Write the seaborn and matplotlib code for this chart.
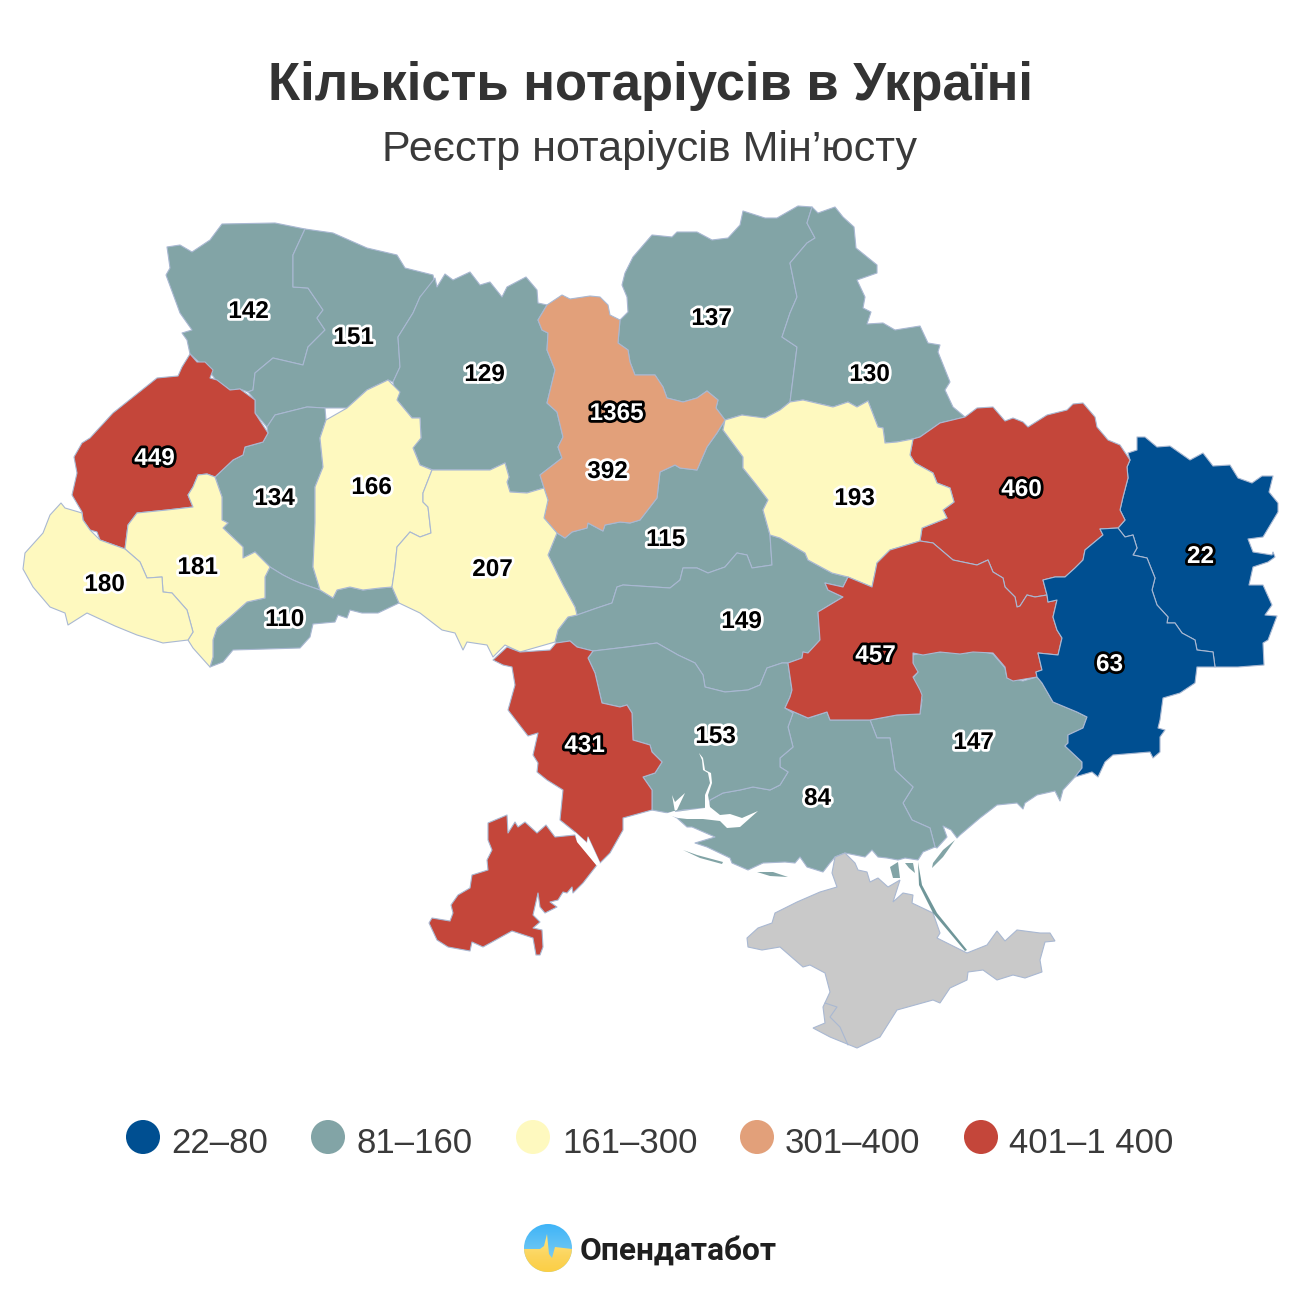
#import packages
import matplotlib
matplotlib.use("Agg")
import matplotlib.pyplot as plt
import matplotlib.patheffects as pe
from matplotlib.colors import LinearSegmentedColormap
from matplotlib.patches import Circle, Polygon
import numpy as np
import pandas as pd
import seaborn as sns

sns.set_theme(style="white")
plt.rcParams['font.family'] = ['Liberation Sans', 'DejaVu Sans']

#chart values
region_names = ["Волинська", "Рівненська", "Житомирська", "Чернігівська", "Сумська", "Львівська",
                "Тернопільська", "Хмельницька", "Київ", "Київська", "Полтавська", "Харківська",
                "Луганська", "Закарпатська", "Івано-Франківська", "Вінницька", "Черкаська",
                "Чернівецька", "Кіровоградська", "Дніпропетровська", "Донецька", "Одеська",
                "Миколаївська", "Запорізька", "Херсонська"]
notary_counts = [142, 151, 129, 137, 130, 449, 134, 166, 1365, 392, 193, 460, 22, 180, 181, 207,
                 115, 110, 149, 457, 63, 431, 153, 147, 84]
bin_edges = [0, 80, 160, 300, 400, 1400]
bin_labels = ["22–80", "81–160", "161–300", "301–400", "401–1 400"]
bin_colors = ["#004f91", "#82a4a6", "#fef9bf", "#e2a07a", "#c4463a"]
label_x = [248, 353, 484, 711, 869, 154, 274, 371, 616, 607, 854, 1021, 1200, 104, 197, 492, 665,
           284, 741, 875, 1109, 584, 715, 973, 817]
label_y = [310, 336, 373, 317, 373, 457, 497, 486, 412, 470, 497, 488, 555, 583, 566, 568, 538,
           618, 620, 654, 663, 744, 735, 741, 797]

#region outlines (px)
volyn = [(222,224),(275,223),(305,229),(293,255),(293,287),(308,288),(323,310),(317,318),(325,330),(308,347),(303,365),(273,358),(255,373),(253,390),(248,392),(240,389),(230,390),(215,379),(210,372),(190,354),(187,340),(182,333),(192,330),(180,313),(166,275),(170,268),(167,247),(180,245),(192,252),(210,240)]
rivne = [(305,229),(333,233),(367,248),(397,255),(405,268),(433,275),(435,285),(420,297),(413,313),(398,337),(400,367),(393,382),(388,380),(367,390),(347,408),(325,408),(307,407),(275,415),(267,427),(255,413),(255,400),(248,392),(253,390),(255,373),(273,358),(303,365),(308,347),(325,330),(317,318),(323,310),(308,288),(293,287),(293,255)]
lviv = [(190,354),(197,362),(205,362),(213,370),(210,378),(217,380),(230,390),(240,389),(255,400),(255,413),(268,433),(263,442),(245,447),(243,455),(233,460),(215,477),(207,474),(198,475),(193,487),(188,495),(193,507),(167,510),(137,513),(128,525),(125,549),(100,540),(97,532),(90,530),(83,520),(82,512),(72,495),(77,473),(74,457),(82,443),(90,438),(113,413),(157,378),(178,376),(182,367)]
zakarpattia = [(61,503),(65,508),(82,513),(83,520),(90,530),(100,540),(125,549),(140,562),(147,578),(162,577),(163,592),(172,593),(187,610),(193,632),(188,640),(163,643),(137,635),(115,626),(87,613),(68,625),(65,613),(50,607),(33,587),(23,569),(25,553),(43,533),(50,515)]
frankivsk = [(198,475),(207,474),(215,477),(222,497),(222,520),(228,523),(223,528),(243,547),(243,558),(255,552),(270,567),(265,577),(265,598),(247,602),(230,617),(217,628),(213,640),(213,657),(210,667),(193,648),(188,640),(193,632),(187,610),(172,593),(163,592),(162,577),(147,578),(140,562),(125,549),(128,525),(137,513),(167,510),(193,507),(188,495),(193,487)]
ternopil = [(275,415),(307,407),(325,408),(326,420),(320,438),(323,467),(315,487),(315,523),(313,567),(320,590),(300,583),(293,580),(283,575),(270,567),(255,552),(243,558),(243,547),(223,528),(228,523),(222,520),(222,497),(215,477),(233,460),(243,455),(245,447),(263,442),(268,433),(267,427)]
chernivtsi = [(270,567),(283,575),(293,580),(300,583),(320,590),(333,598),(337,590),(350,587),(363,590),(380,588),(392,587),(399,603),(378,613),(362,613),(350,610),(347,618),(338,615),(335,622),(313,624),(310,637),(300,648),(233,650),(223,662),(210,667),(213,657),(213,640),(217,628),(230,617),(247,602),(265,598),(265,577)]
khmelnytskyi = [(388,380),(400,392),(397,400),(412,418),(420,418),(421,438),(413,448),(420,465),(432,470),(423,493),(423,502),(428,507),(431,533),(420,537),(410,532),(397,547),(395,567),(392,587),(380,588),(363,590),(350,587),(337,590),(333,598),(320,590),(313,567),(315,523),(315,487),(323,467),(320,438),(326,420),(347,408),(367,390)]
zhytomyr = [(435,278),(437,287),(445,274),(453,280),(470,272),(480,285),(490,282),(502,297),(507,287),(526,277),(537,290),(538,303),(547,305),(538,320),(542,330),(548,333),(547,350),(555,370),(547,403),(557,412),(563,437),(558,447),(562,458),(540,475),(544,488),(527,493),(510,492),(507,482),(509,477),(505,463),(490,470),(433,470),(420,465),(413,447),(421,438),(420,418),(412,418),(397,400),(393,382),(400,367),(398,337),(413,313),(420,297)]
vinnytsia = [(432,470),(490,470),(505,463),(509,477),(507,482),(510,492),(527,493),(544,488),(548,500),(544,518),(557,533),(548,555),(563,585),(575,607),(577,615),(568,617),(558,630),(555,642),(520,652),(505,645),(493,657),(487,645),(467,642),(463,650),(455,633),(442,630),(420,613),(399,603),(392,587),(395,567),(397,547),(410,532),(420,537),(431,533),(428,507),(423,502),(423,493)]
kyiv_obl = [(538,320),(547,305),(562,295),(570,299),(590,296),(600,297),(608,305),(610,315),(620,320),(618,343),(628,350),(630,362),(635,375),(655,375),(663,387),(667,398),(683,402),(697,398),(707,391),(718,400),(716,408),(725,420),(717,433),(707,447),(697,470),(680,468),(675,465),(660,472),(657,498),(640,520),(630,523),(620,522),(605,525),(603,531),(588,523),(587,528),(572,532),(565,538),(557,533),(544,518),(548,500),(544,488),(540,475),(562,458),(558,447),(563,437),(557,412),(547,403),(555,370),(547,350),(548,333),(542,330)]
kyiv_city = [(602,387),(612,383),(618,393),(635,385),(639,388),(630,403),(632,420),(622,427),(625,450),(621,450),(617,433),(610,423),(597,403)]
chernihiv = [(620,320),(628,312),(627,297),(622,285),(625,273),(633,257),(652,235),(672,237),(677,232),(697,232),(712,240),(728,238),(740,225),(743,211),(765,218),(777,218),(798,206),(812,207),(807,223),(815,238),(807,243),(790,263),(797,297),(790,313),(782,337),(797,347),(790,402),(780,410),(765,418),(750,417),(742,415),(725,420),(716,408),(718,400),(707,391),(697,398),(683,402),(667,398),(663,387),(655,375),(635,375),(630,362),(628,350),(618,343)]
sumy = [(812,207),(818,213),(835,207),(843,217),(854,227),(856,248),(877,265),(877,273),(857,280),(865,297),(863,308),(871,312),(867,324),(883,323),(895,330),(920,326),(928,343),(940,345),(938,352),(950,382),(945,390),(953,407),(965,417),(940,423),(920,437),(913,439),(897,442),(885,443),(883,428),(878,427),(868,401),(857,407),(848,402),(833,407),(803,400),(790,402),(797,347),(782,337),(790,313),(797,297),(790,263),(807,243),(815,238),(807,223)]
poltava = [(790,402),(803,400),(833,407),(848,402),(857,407),(868,401),(878,427),(883,428),(885,443),(897,442),(913,439),(910,455),(915,463),(933,473),(937,483),(950,488),(954,502),(943,510),(947,518),(922,528),(920,541),(890,550),(877,563),(875,573),(872,587),(848,577),(832,573),(808,560),(805,553),(780,538),(770,535),(763,510),(768,500),(755,483),(743,468),(743,457),(723,430),(725,420),(742,415),(765,418),(780,410)]
cherkasy = [(725,420),(717,433),(707,447),(697,470),(680,468),(675,465),(660,472),(657,498),(640,520),(630,523),(620,522),(605,525),(603,531),(588,523),(587,528),(572,532),(565,538),(557,533),(548,555),(563,585),(575,607),(577,615),(597,608),(612,603),(617,587),(623,585),(670,588),(680,580),(683,568),(697,568),(708,573),(725,567),(737,553),(747,555),(752,568),(772,565),(770,535),(763,510),(768,500),(755,483),(743,468),(743,457),(723,430)]
kirovohrad = [(577,615),(597,608),(612,603),(617,587),(623,585),(670,588),(680,580),(683,568),(697,568),(708,573),(725,567),(737,553),(747,555),(752,568),(772,565),(770,535),(780,538),(805,553),(808,560),(832,573),(848,577),(843,587),(825,583),(828,590),(843,597),(818,612),(820,640),(808,653),(803,652),(802,658),(788,663),(782,663),(767,668),(760,685),(748,690),(725,692),(705,687),(703,675),(695,663),(678,655),(657,643),(627,647),(593,651),(577,647),(570,641),(558,643),(555,642),(558,630),(568,617)]
odesa_north = [(493,660),(507,647),(520,652),(550,650),(556,643),(570,641),(577,647),(593,651),(588,658),(595,673),(602,703),(620,707),(627,705),(632,713),(633,740),(650,745),(652,752),(662,762),(655,773),(643,777),(652,790),(652,810),(623,818),(623,830),(610,853),(600,863),(588,837),(587,843),(575,832),(560,820),(563,790),(547,780),(537,772),(538,763),(533,755),(538,733),(528,736),(508,710),(515,685),(512,667),(503,665)]
odesa_south = [(488,823),(507,815),(508,833),(515,822),(518,827),(525,822),(537,833),(546,825),(555,837),(575,835),(577,840),(597,865),(583,883),(573,893),(572,887),(567,893),(563,892),(558,900),(550,902),(557,907),(545,913),(540,907),(538,893),(533,915),(540,922),(533,928),(542,930),(543,947),(540,955),(536,955),(533,938),(512,931),(483,947),(472,942),(470,951),(448,947),(437,940),(429,923),(432,918),(450,921),(453,913),(451,905),(458,895),(470,888),(472,875),(488,870),(487,860),(492,850),(488,840)]
mykolaiv = [(593,651),(627,647),(657,643),(678,655),(695,663),(703,675),(705,687),(725,692),(748,690),(760,685),(767,668),(782,663),(788,663),(790,677),(792,690),(790,697),(785,708),(793,713),(788,727),(793,747),(780,758),(780,767),(788,772),(780,785),(770,790),(753,787),(740,790),(723,793),(710,800),(707,808),(683,810),(668,813),(652,810),(652,790),(643,777),(655,773),(662,762),(652,752),(650,745),(633,740),(632,713),(627,705),(620,707),(602,703),(595,673),(588,658)]
kherson = [(785,708),(808,718),(827,712),(830,720),(870,720),(877,738),(890,738),(895,770),(913,787),(903,803),(912,820),(930,828),(935,847),(923,852),(918,860),(905,858),(898,860),(887,858),(878,857),(872,850),(865,857),(845,853),(835,857),(830,863),(823,872),(807,867),(800,857),(795,863),(785,862),(763,863),(748,870),(732,863),(730,858),(707,847),(695,843),(715,837),(692,827),(687,827),(677,818),(668,813),(683,810),(707,808),(710,800),(723,793),(740,790),(753,787),(770,790),(780,785),(788,772),(780,767),(780,758),(793,747),(788,727),(793,713)]
zaporizhzhia = [(870,720),(897,715),(920,714),(922,700),(918,690),(913,678),(918,672),(913,668),(913,655),(923,653),(943,652),(967,653),(975,650),(993,654),(1005,668),(1007,678),(1023,681),(1037,677),(1042,683),(1053,702),(1077,712),(1087,717),(1083,728),(1068,735),(1068,743),(1065,746),(1082,762),(1082,768),(1075,777),(1063,790),(1060,801),(1055,791),(1037,795),(1025,803),(1023,809),(1017,803),(997,805),(980,818),(960,835),(957,838),(951,830),(943,826),(947,837),(937,848),(935,847),(930,828),(912,820),(903,803),(913,787),(895,770),(890,738),(877,738)]
dnipro = [(872,587),(875,573),(877,563),(890,550),(920,541),(933,543),(953,560),(977,565),(988,560),(993,572),(1003,578),(1005,587),(1015,597),(1017,607),(1020,606),(1027,595),(1035,597),(1047,595),(1048,602),(1057,600),(1053,617),(1057,630),(1062,638),(1058,655),(1038,653),(1042,670),(1036,672),(1037,677),(1013,681),(1007,678),(1005,667),(993,653),(973,652),(960,654),(940,652),(923,655),(913,653),(913,663),(918,672),(913,677),(920,690),(922,695),(920,714),(897,715),(870,720),(830,720),(827,712),(808,718),(785,708),(790,697),(792,690),(788,663),(802,658),(803,652),(808,653),(820,640),(818,612),(843,597),(828,590),(825,583),(843,587),(848,577)]
kharkiv = [(913,439),(920,437),(940,423),(965,417),(977,408),(993,407),(1005,421),(1013,418),(1023,422),(1028,427),(1047,415),(1067,410),(1073,404),(1083,403),(1095,417),(1097,427),(1108,440),(1120,445),(1130,460),(1127,467),(1128,478),(1123,497),(1120,510),(1125,520),(1118,528),(1100,529),(1103,535),(1085,550),(1083,560),(1075,568),(1065,577),(1055,577),(1043,580),(1047,595),(1035,597),(1027,595),(1020,606),(1017,607),(1015,597),(1005,587),(1003,578),(993,572),(988,560),(977,565),(953,560),(933,543),(920,541),(922,528),(947,518),(943,510),(954,502),(950,488),(937,483),(933,473),(915,463),(910,455)]
luhansk = [(1118,528),(1125,520),(1120,510),(1123,497),(1128,478),(1127,467),(1130,460),(1128,453),(1137,450),(1137,437),(1145,437),(1157,447),(1170,446),(1190,460),(1203,453),(1213,466),(1230,465),(1238,478),(1252,483),(1262,476),(1273,476),(1269,492),(1278,503),(1278,512),(1263,537),(1248,539),(1253,552),(1272,555),(1273,552),(1275,557),(1268,562),(1253,567),(1249,585),(1263,585),(1272,605),(1265,615),(1277,616),(1268,640),(1263,643),(1264,665),(1238,667),(1215,667),(1213,652),(1197,650),(1195,640),(1182,633),(1175,623),(1167,623),(1168,617),(1157,605),(1152,590),(1155,578),(1147,558),(1133,555),(1137,548),(1133,535),(1125,537)]
donetsk = [(1118,528),(1125,537),(1133,535),(1137,548),(1133,555),(1147,558),(1155,578),(1152,590),(1157,605),(1168,617),(1167,623),(1175,623),(1182,633),(1195,640),(1197,650),(1213,652),(1215,667),(1197,667),(1195,683),(1180,693),(1163,698),(1160,720),(1158,728),(1165,730),(1160,737),(1160,752),(1153,758),(1150,752),(1113,755),(1105,762),(1098,777),(1092,772),(1075,777),(1082,768),(1082,762),(1065,746),(1068,743),(1068,735),(1083,728),(1087,717),(1077,712),(1053,702),(1042,683),(1037,677),(1036,672),(1042,670),(1038,653),(1058,655),(1062,638),(1057,630),(1053,617),(1057,600),(1048,602),(1047,595),(1043,580),(1055,577),(1065,577),(1075,568),(1083,560),(1085,550),(1103,535),(1100,529)]
crimea = [(835,857),(845,853),(855,863),(858,870),(867,872),(870,882),(878,878),(888,887),(900,880),(893,902),(903,893),(913,895),(912,903),(933,913),(940,933),(937,938),(967,953),(987,945),(997,931),(1005,941),(1017,930),(1040,933),(1050,933),(1055,941),(1045,942),(1040,960),(1042,972),(1025,978),(1013,975),(997,980),(983,970),(968,972),(967,980),(950,988),(940,1003),(933,1000),(897,1010),(880,1037),(857,1048),(830,1037),(813,1028),(825,1023),(823,1007),(830,992),(825,973),(810,965),(803,967),(780,947),(762,950),(748,947),(747,938),(758,928),(772,923),(775,913),(797,902),(820,892),(837,887),(832,873)]
sevastopol_line = [(825,1003),(837,1007),(830,1017),(840,1027),(848,1045)]

#outlines in the same order as region_names
region_shapes = [[volyn], [rivne], [zhytomyr], [chernihiv], [sumy], [lviv], [ternopil], [khmelnytskyi],
                 [kyiv_city], [kyiv_obl], [poltava], [kharkiv], [luhansk], [zakarpattia], [frankivsk],
                 [vinnytsia], [cherkasy], [chernivtsi], [kirovohrad], [dnipro], [donetsk],
                 [odesa_north, odesa_south], [mykolaiv], [zaporizhzhia], [kherson]]

#thin coast pieces
river_bug = [(699,753),(703,758),(705,770),(711,773),(712,783),(708,795),(710,807),(720,815),(730,814),(742,818),(758,811),(740,827),(727,828),(720,821),(703,819),(687,819),(678,818),(665,814),(677,810),(685,793),(675,802),(672,795),(675,812),(705,808),(705,795),(710,783),(708,773),(703,770),(702,760)]
dniester_liman = [(575,832),(587,843),(588,837),(600,863),(597,866),(577,842)]
teal_slivers = [[(683,850),(697,855),(723,862),(722,864),(700,858)],
                [(757,872),(773,872),(788,877),(770,876)],
                [(955,840),(943,857),(932,868),(933,863),(943,850)],
                [(890,867),(898,862),(900,878),(893,878)],
                [(905,863),(913,863),(915,873),(909,868)]]
arabat_spit = [(918,862),(922,885),(937,913),(967,950),(965,951),(933,913),(919,885)]

df = pd.DataFrame({"name": region_names, "count": notary_counts, "x": label_x, "y": label_y})
df["bin"] = pd.cut(df["count"], bins=bin_edges, labels=bin_labels)
color_of = dict(zip(bin_labels, bin_colors))
print(df.head())

EDGE = "#a9b8d2"
fig = plt.figure(figsize=(13, 13), dpi=100)
ax = fig.add_axes([0, 0, 1, 1])

#teal first, so the brighter regions sit on top of shared borders
draw_order = df.assign(shapes=region_shapes).sort_values("count", key=lambda s: s.map(lambda v: 0 if 80 < v <= 160 else 1))
for _, row in draw_order.iterrows():
    for shape in row["shapes"]:
        ax.add_patch(Polygon(shape, closed=True, facecolor=color_of[row["bin"]], edgecolor=EDGE,
                             linewidth=0.8, joinstyle="round", zorder=2))
ax.add_patch(Polygon(crimea, closed=True, facecolor="#c9c9c9", edgecolor=EDGE, linewidth=0.8, zorder=2))
ax.plot(*zip(*sevastopol_line), color=EDGE, lw=0.8, zorder=3)
for sliver in teal_slivers:
    ax.add_patch(Polygon(sliver, closed=True, facecolor="#82a4a6", edgecolor="none", zorder=2))
ax.add_patch(Polygon(arabat_spit, closed=True, facecolor="#6f9699", edgecolor="none", zorder=2))
ax.add_patch(Polygon(river_bug, closed=True, facecolor="white", edgecolor="none", zorder=3))
ax.add_patch(Polygon(dniester_liman, closed=True, facecolor="white", edgecolor="none", zorder=3))

#value labels: white on the dark bins, black on the light ones
for _, row in df.iterrows():
    dark = row["bin"] in ("22–80", "401–1 400")
    ax.text(row["x"] + 0.5, row["y"] - 1, str(row["count"]), ha="center", va="center_baseline", fontsize=17.5,
            fontweight="bold", color="white" if dark else "black", zorder=6,
            path_effects=[pe.withStroke(linewidth=4, foreground="black" if dark else "white")])

#legend
legend_x = [143, 328, 533, 757, 981]
text_x = [171, 357, 562, 785, 1009]
sns.scatterplot(x=legend_x, y=[1137] * 5, hue=bin_labels, palette=bin_colors, s=600, linewidth=0,
                legend=False, ax=ax, zorder=4)
for tx, lab in zip(text_x, bin_labels):
    ax.text(tx, 1153, lab, ha="left", va="baseline", fontsize=25, color="#3a3a3a")

#titles
ax.text(650, 100, "Кількість нотаріусів в Україні", ha="center", va="baseline", fontsize=37.9,
        fontweight="bold", color="#333333")
ax.text(650, 161, "Реєстр нотаріусів Мін’юсту", ha="center", va="baseline", fontsize=31.1, color="#3a3a3a")

#logo: gradient disc, yellow half below the pulse line
gradient = np.linspace(0, 1, 64)[:, None]
im_top = ax.imshow(gradient, extent=(524, 572, 1272, 1224), zorder=4, aspect="auto",
                   cmap=LinearSegmentedColormap.from_list("logo_blue", ["#3fb4f8", "#8fd4f0"]))
im_bot = ax.imshow(gradient, extent=(524, 572, 1272, 1224), zorder=5, aspect="auto",
                   cmap=LinearSegmentedColormap.from_list("logo_yellow", ["#ffe27a", "#ffe27a", "#fbd45c", "#fccf45"]))
im_top.set_clip_path(Circle((548, 1248), 24, transform=ax.transData))
arc = np.linspace(0, np.pi, 60)
pulse_line = [(524,1249),(540,1249),(544,1246),(547,1234),(549,1254),(552,1258),(555,1247),(572,1249)]
pulse = Polygon(pulse_line + list(zip(548 + 24 * np.cos(arc), 1248 + 24 * np.sin(arc))),
                transform=ax.transData, facecolor="none", edgecolor="none")
ax.add_patch(pulse)
im_bot.set_clip_path(pulse)
ax.text(580, 1260, "Опендатабот", ha="left", va="baseline", fontsize=22.8, fontweight="bold",
        family=["Roboto", "DejaVu Sans"], color="#1f1f1f")

ax.set_xlim(0, 1300)
ax.set_ylim(1300, 0)
ax.axis("off")
fig.savefig("out.png", dpi=100, facecolor="white")
